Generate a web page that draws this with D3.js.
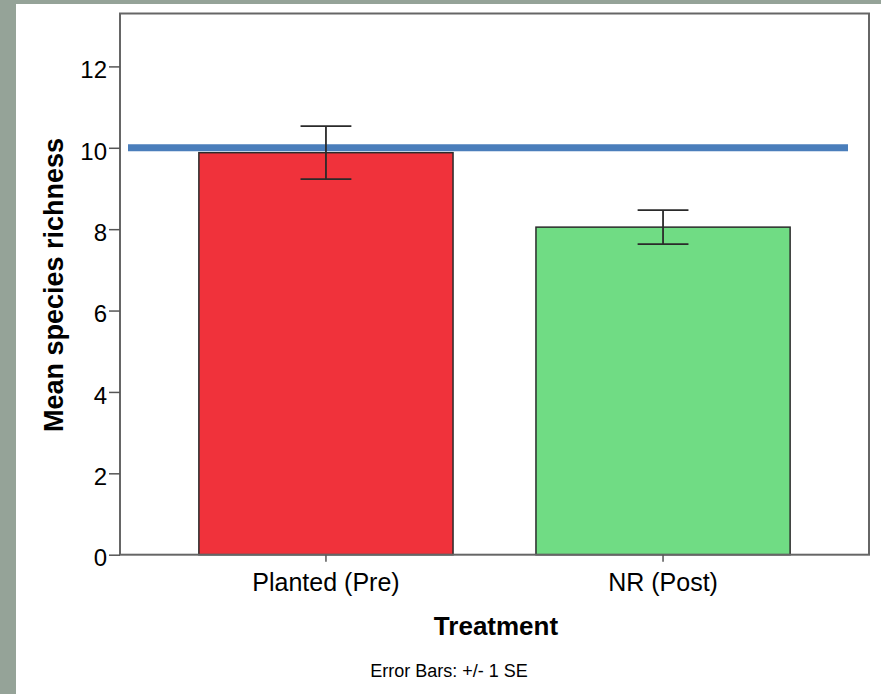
<!DOCTYPE html>
<html>
<head>
<meta charset="utf-8">
<script src="https://cdn.jsdelivr.net/npm/d3@7"></script>
<style>
  body { margin: 0; background: #95a398; }
  svg { display: block; }
  text { font-family: "Liberation Sans", Arial, sans-serif; fill: #000; }
</style>
</head>
<body>
<svg id="chart" width="881" height="694"></svg>
<script>
// data
var treatments = ["Planted (Pre)", "NR (Post)"];
var means = [9.88, 8.05];
var stdErrs = [0.65, 0.42];
var barColors = ["#f0323b", "#70dc84"];
var yTicks = [0, 2, 4, 6, 8, 10, 12];
var refValue = 10; // the blue line

(function() {

var svg = d3.select("#chart");

// white panel on the grey-green slide
svg.append("rect")
  .attr("x", 16).attr("y", 4)
  .attr("width", 865).attr("height", 690)
  .attr("fill", "#fff");

var plotL = 120, plotR = 869, plotT = 13.5, plotB = 554.7;

var x = d3.scaleBand()
  .domain(treatments)
  .range([plotL, plotR])
  .paddingInner(0.246)
  .paddingOuter(0.234);

var y = d3.scaleLinear()
  .domain([0, 13.3])
  .range([plotB, plotT]);

var rows = treatments.map(function(t, i) {
  return { name: t, mean: means[i], se: stdErrs[i], color: barColors[i] };
});

// bars
svg.append("g").selectAll("rect")
  .data(rows)
  .enter().append("rect")
  .attr("x", function(d) { return x(d.name); })
  .attr("y", function(d) { return y(d.mean); })
  .attr("width", x.bandwidth())
  .attr("height", function(d) { return y(0) - y(d.mean); })
  .attr("fill", function(d) { return d.color; })
  .attr("stroke", "#2b2b2b")
  .attr("stroke-width", 1.5);

// reference line at 10
svg.append("line")
  .attr("x1", 128).attr("x2", 848)
  .attr("y1", y(refValue)).attr("y2", y(refValue))
  .attr("stroke", "#4a7ebb")
  .attr("stroke-width", 7);

// error bars, +/- 1 SE
var capW = x.bandwidth() * 0.2;
function cx(d) { return x(d.name) + x.bandwidth() / 2; }
var eb = svg.append("g").selectAll("g")
  .data(rows)
  .enter().append("g")
  .attr("stroke", "#2a2a2a")
  .attr("stroke-width", 1.8);
eb.append("line")
  .attr("x1", cx).attr("x2", cx)
  .attr("y1", function(d) { return y(d.mean + d.se); })
  .attr("y2", function(d) { return y(d.mean - d.se); });
eb.append("line")
  .attr("x1", function(d) { return cx(d) - capW / 2; })
  .attr("x2", function(d) { return cx(d) + capW / 2; })
  .attr("y1", function(d) { return y(d.mean + d.se); })
  .attr("y2", function(d) { return y(d.mean + d.se); });
eb.append("line")
  .attr("x1", function(d) { return cx(d) - capW / 2; })
  .attr("x2", function(d) { return cx(d) + capW / 2; })
  .attr("y1", function(d) { return y(d.mean - d.se); })
  .attr("y2", function(d) { return y(d.mean - d.se); });

// frame
svg.append("rect")
  .attr("x", plotL).attr("y", plotT)
  .attr("width", plotR - plotL).attr("height", plotB - plotT)
  .attr("fill", "none")
  .attr("stroke", "#666")
  .attr("stroke-width", 2);

// y axis
var yAxis = svg.append("g")
  .attr("transform", "translate(" + plotL + ",0)")
  .call(d3.axisLeft(y).tickValues(yTicks).tickSize(11).tickPadding(2));
yAxis.select(".domain").remove();
yAxis.selectAll("line").attr("stroke", "#555").attr("stroke-width", 1.5);
yAxis.selectAll("text")
  .attr("dy", "0.47em")
  .style("font-size", "24px")
  .style("font-family", "'Liberation Sans', Arial, sans-serif")
  .attr("fill", "#000");

// x axis
var xAxis = svg.append("g")
  .attr("transform", "translate(0," + plotB + ")")
  .call(d3.axisBottom(x).tickSize(7).tickPadding(12));
xAxis.select(".domain").remove();
xAxis.selectAll("line").attr("stroke", "#555").attr("stroke-width", 1.5);
xAxis.selectAll("text")
  .style("font-size", "25px")
  .style("font-family", "'Liberation Sans', Arial, sans-serif")
  .attr("fill", "#000");

// titles
svg.append("text")
  .attr("transform", "translate(63,285) rotate(-90)")
  .attr("text-anchor", "middle")
  .style("font-size", "27px")
  .style("font-weight", "bold")
  .text("Mean species richness");

svg.append("text")
  .attr("x", 496).attr("y", 635)
  .attr("text-anchor", "middle")
  .style("font-size", "26px")
  .style("font-weight", "bold")
  .text("Treatment");

svg.append("text")
  .attr("x", 449).attr("y", 677)
  .attr("text-anchor", "middle")
  .style("font-size", "18px")
  .text("Error Bars: +/- 1 SE");

})();
</script>
</body>
</html>
